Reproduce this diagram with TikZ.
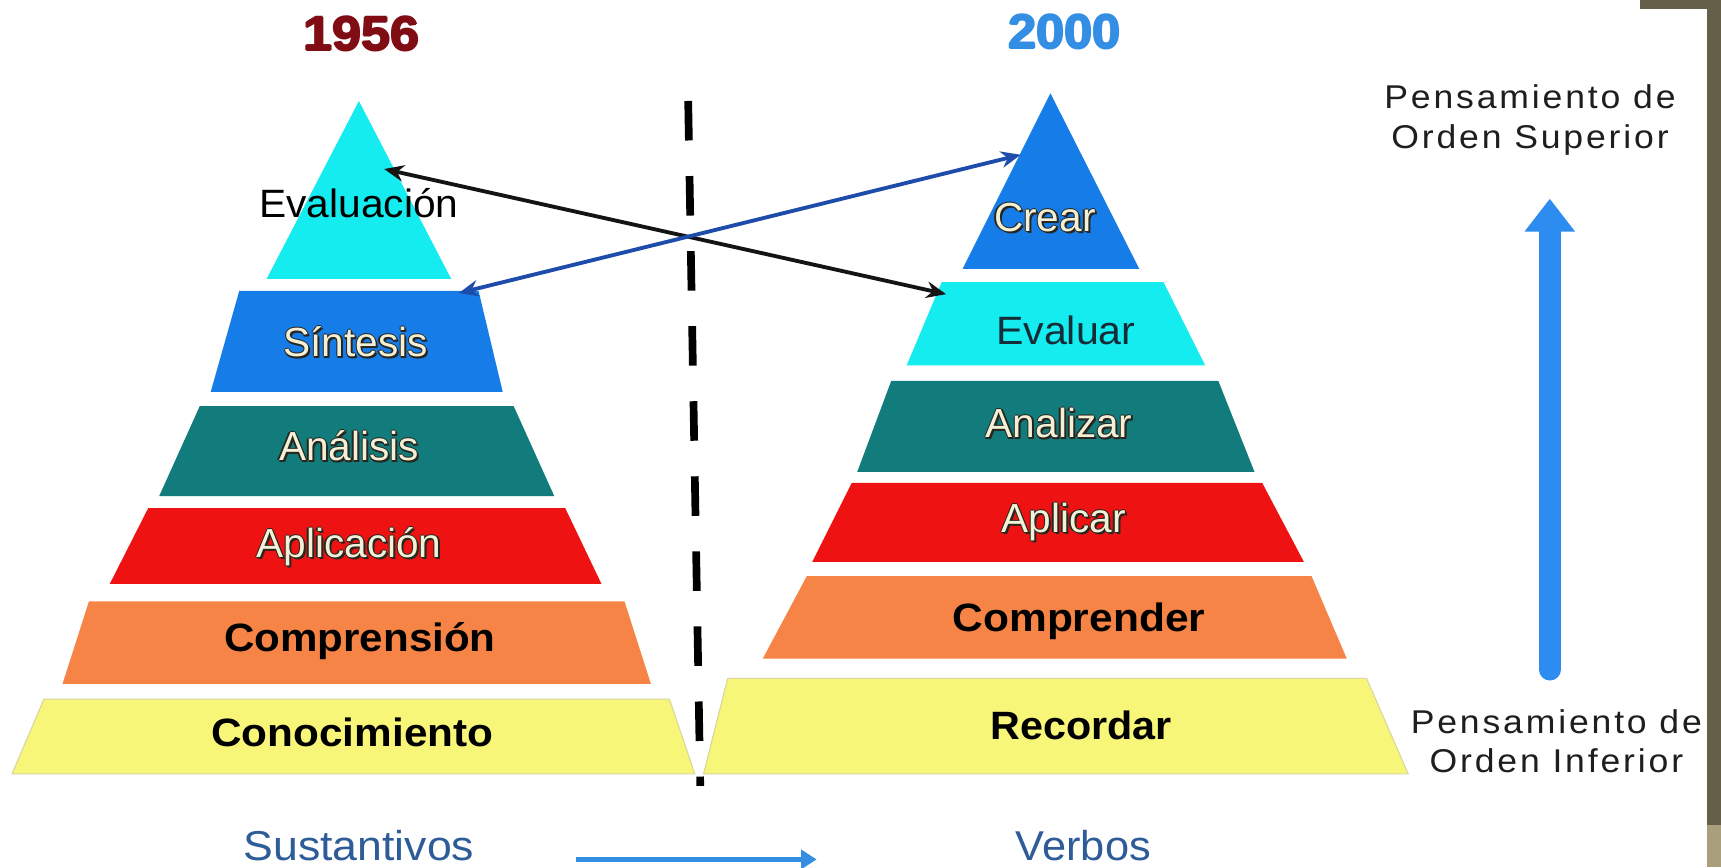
\documentclass[tikz,border=0pt]{standalone}
\usepackage{fontspec}
\usepackage{graphicx}
\setmainfont{Liberation Sans}
\usetikzlibrary{arrows.meta}
\definecolor{cyanL}{RGB}{20,236,240}
\definecolor{blueL}{RGB}{22,124,232}
\definecolor{tealL}{RGB}{18,124,124}
\definecolor{redL}{RGB}{238,18,18}
\definecolor{orangeL}{RGB}{245,132,70}
\definecolor{yellowL}{RGB}{248,246,120}
\definecolor{yellowEdge}{RGB}{215,215,160}
\definecolor{yearRed}{RGB}{128,12,20}
\definecolor{yearBlue}{RGB}{52,142,228}
\definecolor{nounBlue}{RGB}{46,92,152}
\definecolor{bigBlue}{RGB}{44,140,240}
\definecolor{linkBlue}{RGB}{30,76,170}
\definecolor{linkBlack}{RGB}{20,20,20}
\definecolor{lightTxt}{RGB}{242,240,215}
\definecolor{darkTxt}{RGB}{40,38,30}
\definecolor{evalTxt}{RGB}{20,45,55}
\definecolor{sideTxt}{RGB}{30,30,30}
\definecolor{bandDark}{RGB}{101,94,72}
\definecolor{bandLight}{RGB}{168,160,124}
\newcommand\outlined[1]{%
  \rlap{\color{darkTxt}\kern1.8pt\raisebox{-1.8pt}{#1}}%
  \rlap{\color{darkTxt}\kern-1.2pt #1}%
  \rlap{\color{darkTxt}\kern1.2pt #1}%
  \rlap{\color{darkTxt}\raisebox{1.2pt}{#1}}%
  \rlap{\color{darkTxt}\raisebox{-1.2pt}{#1}}%
  {\color{lightTxt}#1}}
\newcommand\heavy[1]{%
  \rlap{\kern-0.9pt #1}\rlap{\kern0.9pt #1}%
  \rlap{\raisebox{0.7pt}{#1}}\rlap{\raisebox{-0.7pt}{#1}}#1}
\newcommand\band[8]{\fill[#1,#8] ({#2-#3},#4) -- ({#2+#3},#4) -- ({#5+#6},#7) -- ({#5-#6},#7) -- cycle;}
\tikzset{
  lbl/.style={inner sep=0pt, anchor=base},
  regl/.style={lbl, font=\fontsize{36}{40}\selectfont},
  boldl/.style={lbl, font=\fontsize{36}{40}\selectfont\bfseries, text=black},
  lightl/.style={lbl, font=\fontsize{37}{40}\selectfont},
  yearl/.style={lbl, font=\fontsize{44}{48}\selectfont\bfseries},
  nounl/.style={lbl, font=\fontsize{38}{40}\selectfont, text=nounBlue},
  sidel/.style={lbl, align=center, text=sideTxt,
    font=\fontsize{30}{36}\selectfont\addfontfeature{LetterSpace=8}},
  linkarrow/.style={line width=3.5pt, {Stealth[length=18pt,width=15pt]}-{Stealth[length=18pt,width=15pt]}},
  yedge/.style={draw=yellowEdge, line width=1pt}
}
\begin{document}
\begin{tikzpicture}[x=1pt,y=-1pt]
\useasboundingbox (0,0) rectangle (1568,790);
\fill[white] (0,0) rectangle (1568,790);

% ---- left pyramid (1956)
\fill[cyanL] (327,92) -- (411,254) -- (243,254) -- cycle;
\band{blueL}{327}{109}{265}{325}{133}{357}{}
\band{tealL}{325}{143}{370}{325}{180}{452}{}
\band{redL}{325}{190}{463}{324}{224}{532}{}
\band{orangeL}{325}{244}{548}{325}{268}{623}{}
\band{yellowL}{325}{285}{637}{322}{311}{705}{yedge}

% ---- right pyramid (2000)
\fill[blueL] (957,85) -- (1038,245) -- (877,245) -- cycle;
\band{cyanL}{959}{101}{257}{962}{136}{333}{}
\band{tealL}{961}{149}{347}{962}{181}{430}{}
\band{redL}{963}{187}{440}{964}{224}{512}{}
\band{orangeL}{965}{230}{525}{961}{266}{600}{}
\band{yellowL}{954}{291}{618}{962}{321}{705}{yedge}

% ---- years
\node[yearl, text=yearRed] (y1956) at (329,46) {\scalebox{1.08}[1]{\heavy{1956}}};
\node[yearl, text=yearBlue] (y2000) at (970,44) {\scalebox{1.05}[1]{\heavy{2000}}};

% ---- labels left
\node[regl, text=black] (evaluacion) at (327,198) {\scalebox{1.03}[1]{Evaluación}};
\node[lightl] (sintesis) at (324,325) {\outlined{Síntesis}};
\node[lightl] (analisis) at (318,420) {\outlined{Análisis}};
\node[lightl] (aplicacion) at (318,508) {\outlined{Aplicación}};
\node[boldl] (comprension) at (328,594) {\scalebox{1.065}[1]{Comprensión}};
\node[boldl] (conocimiento) at (321,680) {\scalebox{1.07}[1]{Conocimiento}};

% ---- labels right
\node[lightl] (crear) at (952,211) {\outlined{Crear}};
\node[regl, text=evalTxt] (evaluar) at (971,314) {\scalebox{1.04}[1]{Evaluar}};
\node[lightl] (analizar) at (965,399) {\outlined{Analizar}};
\node[lightl] (aplicar) at (969,485) {\outlined{Aplicar}};
\node[boldl] (comprender) at (983,575) {\scalebox{1.075}[1]{Comprender}};
\node[boldl] (recordar) at (985,674) {\scalebox{1.045}[1]{Recordar}};

% ---- divider
\coordinate (dashTop) at (627,92);
\coordinate (dashBot) at (638,716);
\draw[line width=7pt, dash pattern=on 36pt off 32.4pt] (dashTop) -- (dashBot);

% ---- cross links
\coordinate (bkL) at (350,154);
\coordinate (bkR) at (862,268);
\coordinate (blL) at (418,267);
\coordinate (blR) at (930,141);
\draw[linkarrow, linkBlack] (bkL) -- (bkR);
\draw[linkarrow, linkBlue] (blL) -- (blR);

% ---- bottom
\node[nounl] (sust) at (327,784) {\scalebox{1.07}[1]{Sustantivos}};
\node[nounl] (verbos) at (987,784) {\scalebox{1.04}[1]{Verbos}};
\coordinate (nvL) at (525,783);
\coordinate (nvR) at (744,783);
\draw[line width=5pt, yearBlue, -{Triangle[length=14pt,width=17pt]}] (nvL) -- (nvR);

% ---- right side scale
\node[sidel] (sup) at (1394,135) {\scalebox{1.08}[1]{Pensamiento de}\\\scalebox{1.08}[1]{Orden Superior}};
\node[sidel] (inf) at (1418,704) {\scalebox{1.08}[1]{Pensamiento de}\\\scalebox{1.08}[1]{Orden Inferior}};
\coordinate (bigBot) at (1412,610);
\coordinate (bigTop) at (1412,181);
\draw[line width=20pt, bigBlue, line cap=round, -{Triangle[length=30pt,width=44pt]}] (bigBot) -- (bigTop);

% ---- frame band
\fill[bandDark] (1555,0) rectangle (1568,752);
\fill[bandDark] (1494,0) rectangle (1568,8);
\fill[bandLight] (1555,752) rectangle (1568,790);
\end{tikzpicture}
\end{document}
